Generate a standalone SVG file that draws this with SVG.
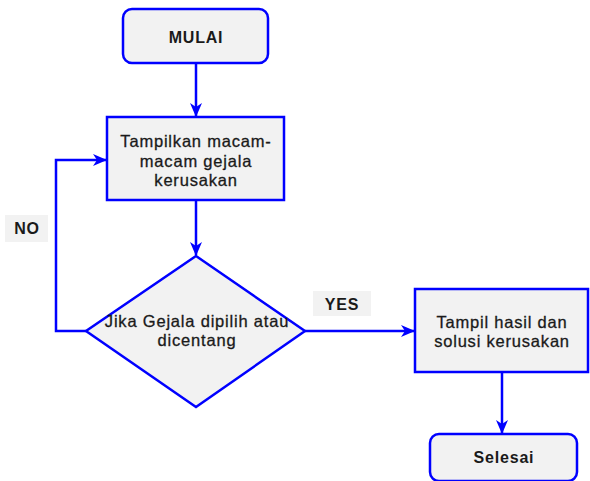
<svg xmlns="http://www.w3.org/2000/svg" width="590" height="481" viewBox="0 0 590 481">
<style>
.shape{fill:#f2f2f2;stroke:#0000ff;stroke-width:2.5}
.conn{fill:none;stroke:#0000ff;stroke-width:2.5}
.t{font-family:"Liberation Sans",Arial,sans-serif;font-size:16.5px;fill:#1a1a1a;stroke:#1a1a1a;stroke-width:0.3;text-anchor:middle;letter-spacing:0.8px}
.b{font-weight:bold;font-size:16px;stroke-width:0}
.lbl{fill:#f2f2f2;stroke:none}
</style>
<defs>
<marker id="arr" viewBox="0 0 14 12" refX="13" refY="6" markerWidth="14" markerHeight="12" markerUnits="userSpaceOnUse" orient="auto">
<path d="M0,0 L14,6 L0,12 L4,6 Z" fill="#0000ff"/>
</marker>
</defs>
<rect width="590" height="481" fill="#ffffff"/>
<g id="connectors">
<path class="conn" d="M196,63 V116" marker-end="url(#arr)"/>
<path class="conn" d="M196,200 V255" marker-end="url(#arr)"/>
<path class="conn" d="M86,331 H56 V160 H106" marker-end="url(#arr)"/>
<path class="conn" d="M305,331 H414" marker-end="url(#arr)"/>
<path class="conn" d="M502,372 V433" marker-end="url(#arr)"/>
</g>
<g id="label-no">
<rect class="lbl" x="5" y="215" width="43" height="27"/>
<text class="t b" x="27" y="234">NO</text>
</g>
<g id="label-yes">
<rect class="lbl" x="313" y="291" width="58" height="25"/>
<text class="t b" x="342" y="310">YES</text>
</g>
<g id="mulai">
<rect class="shape" x="123" y="9" width="145" height="54" rx="9"/>
<text class="t b" x="196" y="43">MULAI</text>
</g>
<g id="tampilkan">
<rect class="shape" x="107" y="117" width="177" height="83"/>
<text class="t" x="196" y="147">Tampilkan macam-</text>
<text class="t" x="196" y="166.5">macam gejala</text>
<text class="t" x="196" y="186">kerusakan</text>
</g>
<g id="keputusan">
<polygon class="shape" points="196,256 305,331 196,407 86,331"/>
<text class="t" x="197" y="327">Jika Gejala dipilih atau</text>
<text class="t" x="197" y="346">dicentang</text>
</g>
<g id="tampil-hasil">
<rect class="shape" x="415" y="289" width="173" height="83"/>
<text class="t" x="502" y="328">Tampil hasil dan</text>
<text class="t" x="502" y="347">solusi kerusakan</text>
</g>
<g id="selesai">
<rect class="shape" x="430" y="434" width="147" height="47" rx="9"/>
<text class="t b" x="504" y="463">Selesai</text>
</g>
</svg>
